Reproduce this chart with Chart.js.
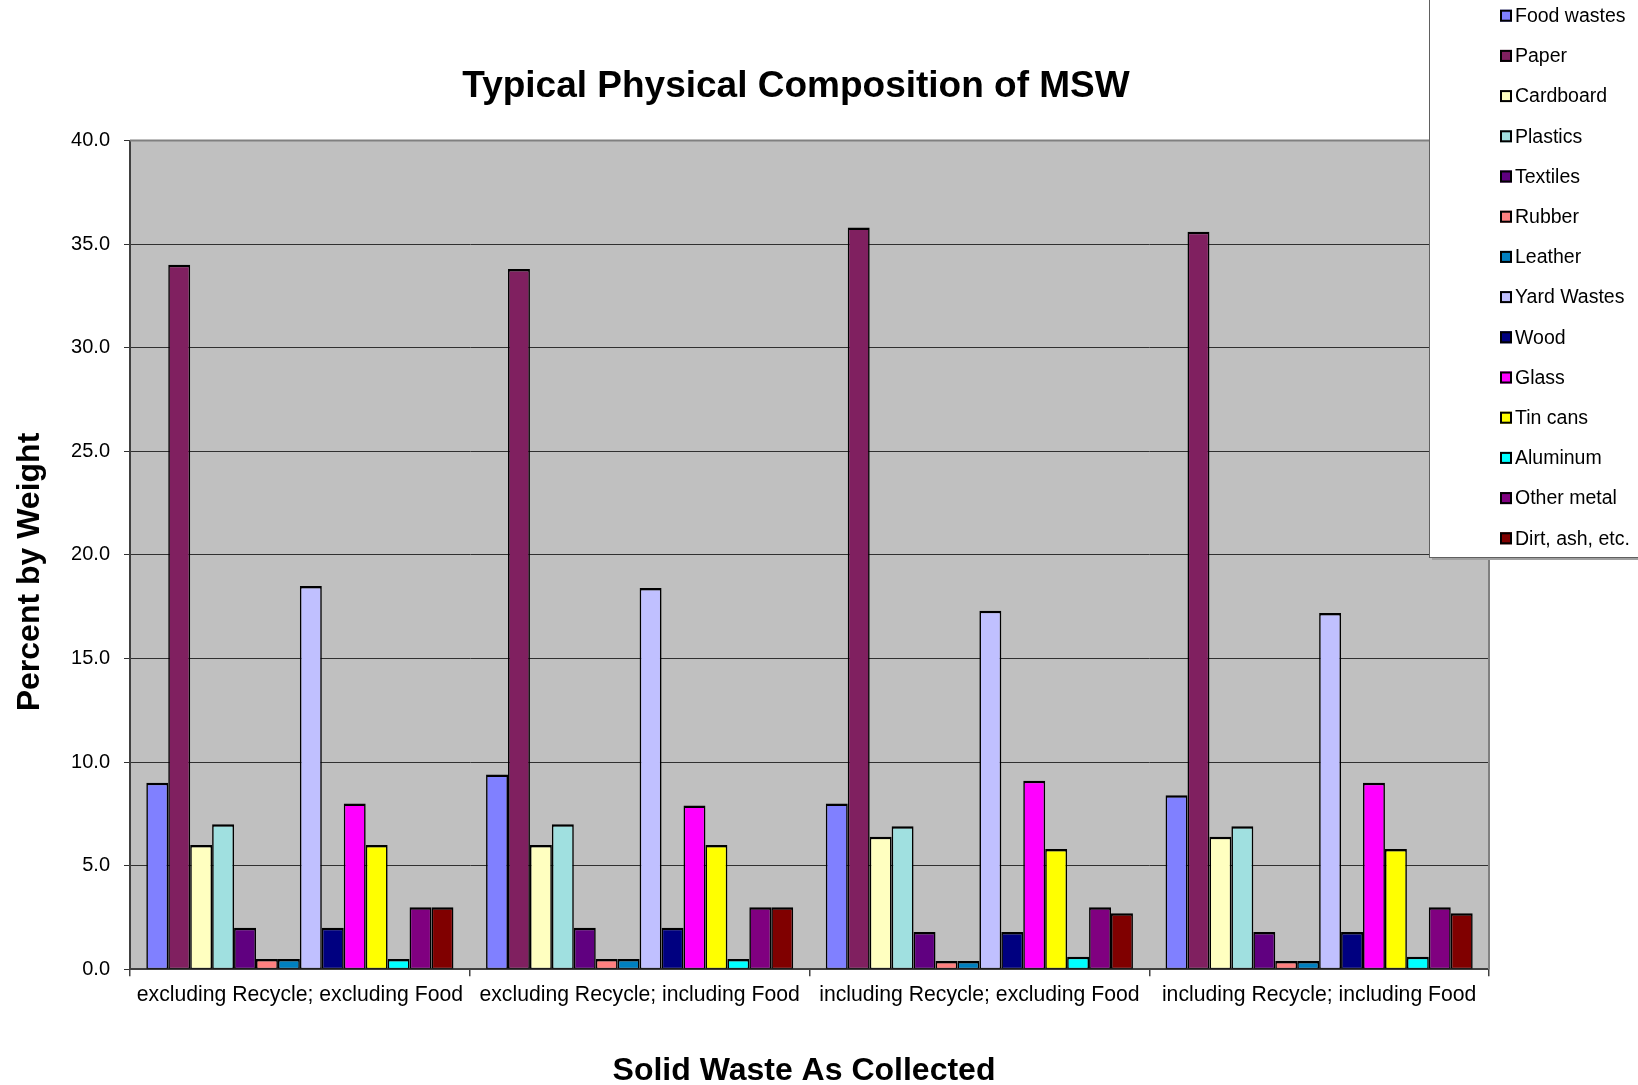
<!DOCTYPE html>
<html>
<head>
<meta charset="utf-8">
<title>Typical Physical Composition of MSW</title>
<script src="https://cdn.jsdelivr.net/npm/chart.js@4.4.1/dist/chart.umd.min.js"></script>
<style>
  html, body { margin: 0; padding: 0; background: #ffffff; }
  #wrap { width: 1638px; height: 1085px; position: relative; }
</style>
</head>
<body>
<div id="wrap"><canvas id="c" width="1638" height="1085"></canvas></div>
<script>
// Waste stream scenarios (x categories)
const categories = [
  'excluding Recycle; excluding Food',
  'excluding Recycle; including Food',
  'including Recycle; excluding Food',
  'including Recycle; including Food'
];

// Percent by weight for each component, one value per scenario
const foodWastes  = [9.0, 9.4, 8.0, 8.4];
const paper       = [34.0, 33.8, 35.8, 35.6];
const cardboard   = [6.0, 6.0, 6.4, 6.4];
const plastics    = [7.0, 7.0, 6.9, 6.9];
const textiles    = [2.0, 2.0, 1.8, 1.8];
const rubber      = [0.5, 0.5, 0.4, 0.4];
const leather     = [0.5, 0.5, 0.4, 0.4];
const yardWastes  = [18.5, 18.4, 17.3, 17.2];
const wood        = [2.0, 2.0, 1.8, 1.8];
const glass       = [8.0, 7.9, 9.1, 9.0];
const tinCans     = [6.0, 6.0, 5.8, 5.8];
const aluminum    = [0.5, 0.5, 0.6, 0.6];
const otherMetal  = [3.0, 3.0, 3.0, 3.0];
const dirtAsh     = [3.0, 3.0, 2.7, 2.7];

const seriesNames = ['Food wastes', 'Paper', 'Cardboard', 'Plastics', 'Textiles', 'Rubber',
  'Leather', 'Yard Wastes', 'Wood', 'Glass', 'Tin cans', 'Aluminum', 'Other metal', 'Dirt, ash, etc.'];
const seriesValues = [foodWastes, paper, cardboard, plastics, textiles, rubber,
  leather, yardWastes, wood, glass, tinCans, aluminum, otherMetal, dirtAsh];
const seriesColors = ['#8080FF', '#802060', '#FFFFC0', '#A0E0E0', '#600080', '#FF8080',
  '#0080C0', '#C0C0FF', '#000080', '#FF00FF', '#FFFF00', '#00FFFF', '#800080', '#800000'];

// Y axis tick values
const yTicks = [0, 5, 10, 15, 20, 25, 30, 35, 40];

const FONT = '"Liberation Sans", Arial, Helvetica, sans-serif';

const datasets = seriesNames.map((name, i) => ({
  label: name,
  data: seriesValues[i],
  backgroundColor: seriesColors[i],
  borderColor: '#000000',
  borderWidth: { top: 2.5, left: 1.6, right: 1.6, bottom: 1 },
  borderSkipped: false,
  categoryPercentage: 0.904,
  barPercentage: 1.0
}));

// Plot background, frame, titles and legend drawn around the chart area
const decorations = {
  id: 'decorations',
  beforeDraw(chart) {
    const { ctx, chartArea: a } = chart;
    ctx.save();
    ctx.fillStyle = '#C0C0C0';
    ctx.fillRect(a.left, a.top, a.right - a.left, a.bottom - a.top);
    ctx.restore();
  },
  afterDraw(chart) {
    const { ctx, chartArea: a } = chart;
    ctx.save();
    // top and right frame of the plot area
    ctx.strokeStyle = '#808080';
    ctx.lineWidth = 2;
    ctx.beginPath();
    ctx.moveTo(a.left, a.top);
    ctx.lineTo(a.right, a.top);
    ctx.lineTo(a.right, a.bottom);
    ctx.stroke();

    // chart title
    ctx.fillStyle = '#000000';
    ctx.textAlign = 'center';
    ctx.textBaseline = 'alphabetic';
    ctx.font = 'bold 37px ' + FONT;
    ctx.fillText('Typical Physical Composition of MSW', 796, 97);

    // x axis title
    ctx.font = 'bold 32px ' + FONT;
    ctx.fillText('Solid Waste As Collected', 804, 1080);

    // y axis title
    ctx.save();
    ctx.translate(39, 572);
    ctx.rotate(-Math.PI / 2);
    ctx.fillText('Percent by Weight', 0, 0);
    ctx.restore();

    // legend box
    const lx = 1429, ly = -4, lw = 240, lh = 561;
    ctx.fillStyle = '#A0A0A0';
    ctx.fillRect(lx + 3, ly + 3, lw, lh);
    ctx.fillStyle = '#FFFFFF';
    ctx.fillRect(lx, ly, lw, lh);
    ctx.strokeStyle = '#606060';
    ctx.lineWidth = 1;
    ctx.strokeRect(lx + 0.5, ly + 0.5, lw, lh);

    ctx.font = '19.5px ' + FONT;
    ctx.textAlign = 'left';
    ctx.textBaseline = 'middle';
    chart.data.datasets.forEach((ds, i) => {
      const cy = 15.7 + i * 40.2;
      ctx.fillStyle = ds.backgroundColor;
      ctx.fillRect(1500, cy - 6, 12, 12);
      ctx.strokeStyle = '#000000';
      ctx.lineWidth = 2;
      ctx.strokeRect(1501, cy - 5, 10, 10);
      ctx.fillStyle = '#000000';
      ctx.fillText(ds.label, 1515, cy + 1);
    });
    ctx.restore();
  }
};

new Chart(document.getElementById('c'), {
  type: 'bar',
  data: { labels: categories, datasets },
  options: {
    responsive: false,
    animation: false,
    devicePixelRatio: 1,
    layout: { padding: { top: 140.5, right: 149, left: 0, bottom: 0 } },
    plugins: {
      legend: { display: false },
      title: { display: false },
      tooltip: { enabled: false }
    },
    scales: {
      x: {
        type: 'category',
        grid: {
          offset: true,
          drawOnChartArea: false,
          drawTicks: true,
          tickLength: 7,
          color: '#404040',
          lineWidth: 1.5
        },
        border: { display: true, color: '#404040', width: 2 },
        ticks: {
          color: '#000000',
          font: { family: FONT, size: 21.2 },
          maxRotation: 0,
          minRotation: 0,
          autoSkip: false,
          padding: 6
        },
        afterFit(scale) { scale.height = 115.7; }
      },
      y: {
        min: 0,
        max: 40,
        afterBuildTicks(scale) { scale.ticks = yTicks.map(v => ({ value: v })); },
        grid: {
          color: '#303030',
          lineWidth: 1,
          tickLength: 6,
          drawTicks: true
        },
        border: { display: true, color: '#404040', width: 2 },
        ticks: {
          color: '#000000',
          font: { family: FONT, size: 20 },
          padding: 14,
          callback: v => Number(v).toFixed(1)
        },
        afterFit(scale) { scale.width = 130; }
      }
    }
  },
  plugins: [decorations]
});
</script>
</body>
</html>
